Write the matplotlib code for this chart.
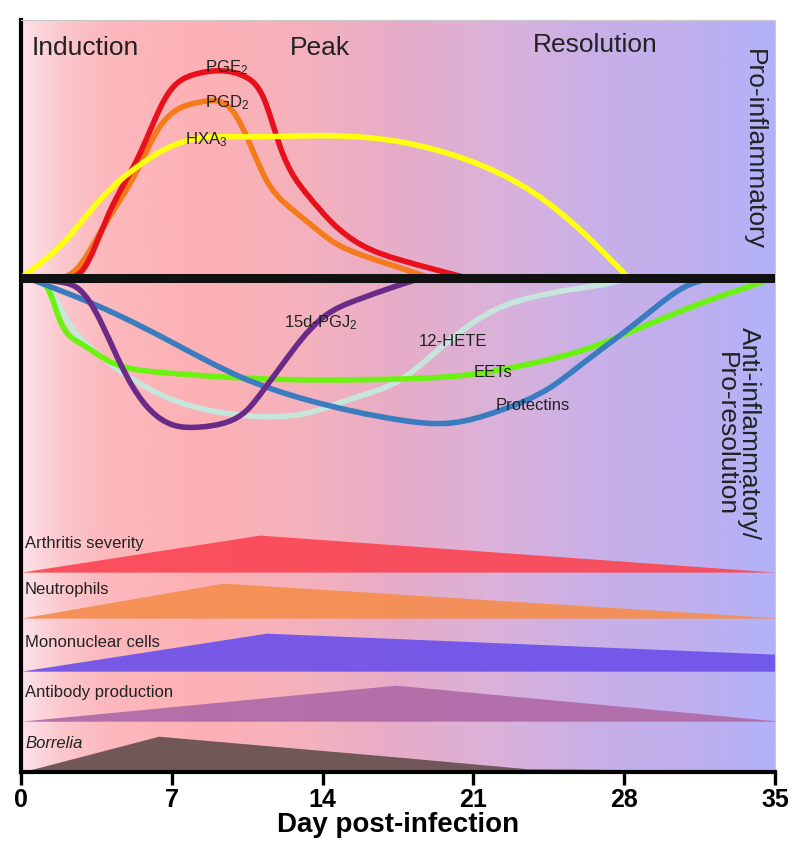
import numpy as np
import matplotlib
matplotlib.use("Agg")
import matplotlib.pyplot as plt
from matplotlib.path import Path
from matplotlib.patches import PathPatch
from matplotlib.colors import LinearSegmentedColormap

plt.rcParams['font.family'] = ['Liberation Sans', 'DejaVu Sans']
plt.rcParams['mathtext.fontset'] = 'custom'
plt.rcParams['mathtext.rm'] = 'Liberation Sans'
plt.rcParams['mathtext.it'] = 'Liberation Sans:italic'
plt.rcParams['mathtext.default'] = 'regular'

# mediators above the line (pro-inflammatory), day vs relative level
pge2_day = [2.2, 2.8, 4.1, 5.5, 6.8, 8.0, 9.1, 10.5, 11.26, 12.05, 13.3, 14.5, 15.8, 17.6, 20.7]
pge2_val = [0, 0.6, 6.5, 12.3, 18.3, 20.3, 20.7, 20.0, 18.0, 13.0, 8.3, 5.4, 3.3, 1.8, 0]
pgd2_day = [2.0, 2.6, 3.67, 5.53, 6.3, 7.1, 8.4, 9.86, 10.65, 11.44, 12.19, 13.3, 14.5, 15.8,
            17.6, 19.0]
pgd2_val = [0, 0.9, 4.5, 11.3, 14.6, 16.6, 17.6, 16.6, 13.3, 9.6, 7.6, 5.6, 3.6, 2.3, 1.0, 0]
hxa3_day = [0, 2.1, 3.67, 5.53, 6.47, 7.86, 10.2, 14.5, 17.6, 20.7, 23.8, 26.1, 28.2]
hxa3_val = [0, 3.8, 7.8, 11.3, 12.6, 13.8, 14.1, 14.2, 13.6, 11.8, 8.5, 4.5, 0]

# mediators below the line (anti-inflammatory / pro-resolution)
pgj2_day = [0.5, 1.81, 2.74, 3.67, 4.47, 5.2, 6.0, 7.07, 8.33, 9.58, 10.5, 11.26, 12.05,
            13.0, 14.05, 15.6, 17.3, 18.6]
pgj2_val = [0, -0.4, -1.2, -4.2, -7.9, -10.9, -13.2, -14.7, -14.9, -14.4, -13.2, -11.2, -8.9,
            -6.2, -3.9, -2.2, -0.9, 0]
hete_day = [0.5, 1.35, 2.14, 3.2, 4.74, 7.07, 10.2, 13.3, 15.6, 17.6, 19.2, 20.7, 22.3, 23.8,
            25.4, 26.9, 28.3]
hete_val = [0, -1.2, -4.2, -6.9, -9.5, -12.2, -13.7, -13.5, -11.9, -10.2, -7.5, -4.9, -2.9,
            -1.9, -1.2, -0.7, 0]
eets_day = [0.5, 1.35, 1.81, 2.74, 3.99, 6.3, 10.2, 17.6, 20.7, 23.8, 26.1, 28.5, 31.6, 35]
eets_val = [0, -1.5, -4.2, -6.5, -8.2, -9.4, -10.0, -10.1, -9.7, -8.5, -7.2, -5.2, -2.5, 0]
prot_day = [0.3, 4.0, 7.07, 10.2, 13.3, 17.6, 19.95, 22.3, 24.6, 26.1, 27.7, 29.3, 30.8, 32.0]
prot_val = [0, -3.2, -6.5, -9.9, -12.2, -14.2, -14.5, -13.2, -10.9, -8.5, -5.9, -3.2, -0.9, 0]

# bottom bands: name, days, heights
band_names = ["Arthritis severity", "Neutrophils", "Mononuclear cells", "Antibody production", "Borrelia"]
arthritis_day = [0, 11.1, 35]
arthritis_h = [0, 3.7, 0]
neutro_day = [0, 9.4, 35]
neutro_h = [0, 3.5, 0.05]
mono_day = [0, 11.4, 35]
mono_h = [0, 3.8, 1.7]
antibody_day = [0, 17.4, 35]
antibody_h = [0, 3.6, 0.05]
borrelia_day = [0, 6.4, 17.6, 23.5, 35]
borrelia_h = [0, 3.6, 1.5, 0.35, 0.15]

xticks = [0, 7, 14, 21, 28, 35]

YMIN, YMAX = -49.4, 25.8


def smooth_path(xs, ys):
    # natural cubic spline through the read points, drawn as bezier segments
    x = np.asarray(xs, float)
    y = np.asarray(ys, float)
    n = len(x)
    h = np.diff(x)
    d = np.diff(y) / h
    A = np.zeros((n, n))
    b = np.zeros(n)
    A[0, 0] = A[-1, -1] = 1
    for i in range(1, n - 1):
        A[i, i - 1] = h[i - 1]
        A[i, i] = 2 * (h[i - 1] + h[i])
        A[i, i + 1] = h[i]
        b[i] = 6 * (d[i] - d[i - 1])
    M = np.linalg.solve(A, b)
    verts = [(x[0], y[0])]
    codes = [Path.MOVETO]
    for i in range(n - 1):
        s0 = d[i] - h[i] * (2 * M[i] + M[i + 1]) / 6
        s1 = d[i] + h[i] * (M[i] + 2 * M[i + 1]) / 6
        verts += [(x[i] + h[i] / 3, y[i] + s0 * h[i] / 3),
                  (x[i + 1] - h[i] / 3, y[i + 1] - s1 * h[i] / 3),
                  (x[i + 1], y[i + 1])]
        codes += [Path.CURVE4] * 3
    return Path(verts, codes)


fig = plt.figure(figsize=(8, 8.59), dpi=100)
ax = fig.add_axes([0.026, 0.101, 0.943, 0.876])

# background gradient
bg = LinearSegmentedColormap.from_list("bg", [
    (0.0, "#fde1e8"), (0.05, "#fac8cd"), (0.105, "#fcb9be"), (0.24, "#fcb0b4"),
    (0.37, "#f5b2bc"), (0.50, "#e6acc8"), (0.635, "#dab2da"), (0.768, "#c8afe8"),
    (0.90, "#beafee"), (1.0, "#b2b2fa")])
ax.imshow(np.linspace(0, 1, 400).reshape(1, -1), cmap=bg, aspect='auto',
          extent=[0, 35, YMIN, YMAX], zorder=0, interpolation='bilinear')

curves = [
    (hete_day, hete_val, "#c6e6dc"),
    (eets_day, eets_val, "#6cf210"),
    (prot_day, prot_val, "#3a7cc0"),
    (pgj2_day, pgj2_val, "#6a2a88"),
    (pgd2_day, pgd2_val, "#f57a1a"),
    (pge2_day, pge2_val, "#e8101a"),
    (hxa3_day, hxa3_val, "#ffff10"),
]
for xs, ys, c in curves:
    ax.add_patch(PathPatch(smooth_path(xs, ys), facecolor='none', edgecolor=c,
                           lw=4.0, capstyle='round', zorder=3))

# dividing line
ax.axhline(0, color='#111111', lw=6.5, zorder=5)

# bands
band_base = [-29.4, -34.0, -39.3, -44.3, -49.4]
band_colors = ["#fa4856", "#f58e50", "#6e52ea", "#b06aa8", "#685050"]
band_data = [(arthritis_day, arthritis_h), (neutro_day, neutro_h), (mono_day, mono_h),
             (antibody_day, antibody_h), (borrelia_day, borrelia_h)]
for (d, h), base, c in zip(band_data, band_base, band_colors):
    ax.fill_between(d, base, base + np.array(h), color=c, alpha=0.93, lw=0, zorder=2)

tc = "#222222"
for name, base in zip(band_names, band_base):
    ax.text(0.2, base + 2.9, name, fontsize=12, color=tc, va='center', ha='left',
            style='italic' if name == "Borrelia" else 'normal', zorder=6)

# curve labels
ax.text(8.56, 21.0, "PGE$_2$", fontsize=12, color=tc, va='center', zorder=6)
ax.text(8.56, 17.5, "PGD$_2$", fontsize=12, color=tc, va='center', zorder=6)
ax.text(7.63, 13.8, "HXA$_3$", fontsize=12, color=tc, va='center', zorder=6)
ax.text(12.19, -4.5, "15d-PGJ$_2$", fontsize=12, color=tc, va='center', zorder=6)
ax.text(18.47, -6.4, "12-HETE", fontsize=12, color=tc, va='center', zorder=6)
ax.text(21.0, -9.5, "EETs", fontsize=12, color=tc, va='center', zorder=6)
ax.text(22.05, -12.7, "Protectins", fontsize=12, color=tc, va='center', zorder=6)

# phase labels
ax.text(0.5, 23.0, "Induction", fontsize=19, color=tc, va='center', ha='left')
ax.text(12.5, 23.0, "Peak", fontsize=19, color=tc, va='center', ha='left')
ax.text(23.77, 23.3, "Resolution", fontsize=19, color=tc, va='center', ha='left')

ax.text(34.0, 12.8, "Pro-inflammatory", fontsize=19, color=tc, rotation=-90,
        va='center', ha='center')
ax.text(33.25, -15.6, "Anti-inflammatory/\nPro-resolution", fontsize=19, color=tc,
        rotation=-90, va='center', ha='center', multialignment='center',
        linespacing=0.95)

ax.set_xlim(0, 35)
ax.set_ylim(YMIN, YMAX)
ax.set_xticks(xticks)
ax.set_xticklabels([str(t) for t in xticks], fontsize=18, fontweight='bold')
ax.set_yticks([])
ax.tick_params(axis='x', direction='out', length=9, width=2.4, pad=2)
ax.set_xlabel("Day post-infection", fontsize=20, fontweight='bold', labelpad=0)

ax.spines['left'].set_linewidth(3)
ax.spines['bottom'].set_linewidth(3)
ax.spines['top'].set_color('#c8c8c8')
ax.spines['right'].set_color('#c8c8c8')
ax.spines['top'].set_linewidth(0.8)
ax.spines['right'].set_linewidth(0.8)

fig.savefig("out.png", dpi=100)
